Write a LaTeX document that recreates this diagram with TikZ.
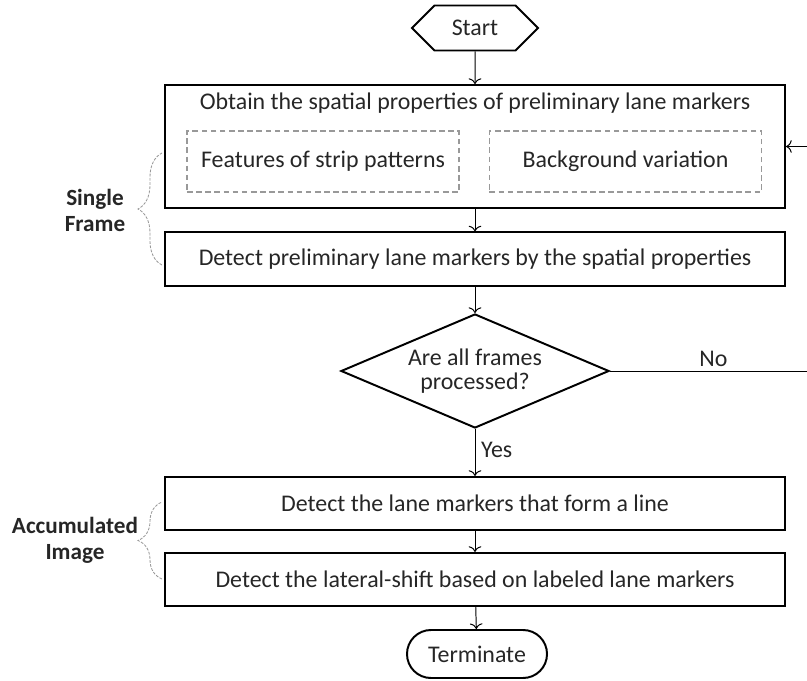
\documentclass[tikz,border=0pt]{standalone}
\usepackage{fontspec}
\setmainfont{Carlito}
\usetikzlibrary{shapes.geometric,shapes.misc,shapes.symbols,decorations.pathreplacing,arrows.meta}

\begin{document}
\begin{tikzpicture}[x=0.025cm,y=-0.025cm, % one unit is one pixel of the layout
  font=\fontsize{17}{18}\selectfont,
  every node/.style={inner sep=0pt, text=black!85},
  procbox/.style={draw=black, line width=1.4pt, minimum width=15.5cm, minimum height=1.33cm},
  subbox/.style={draw=black!40, line width=1pt, dash pattern=on 4pt off 2.5pt, minimum width=6.8cm, minimum height=1.525cm},
  decision/.style={diamond, aspect=2.35, draw=black, line width=1.4pt, minimum width=6.7cm, minimum height=2.85cm, align=center, font=\fontsize{17}{17}\selectfont},
  flow/.style={-{To[length=4pt,width=9pt]}, line width=0.7pt},
  sidebrace/.style={decorate, decoration={brace, amplitude=0.6cm}, draw=black!40, dash pattern=on 2pt off 1pt, line width=0.6pt},
  sidelabel/.style={font=\fontsize{16.5}{18.5}\selectfont\bfseries, align=center}]
\clip (0,0) rectangle (807,681);
% process column
\node[signal, signal to=east and west, draw=black, line width=1.4pt, minimum width=3.15cm, minimum height=1.125cm] (start) at (475,28) {Start};
\node[procbox, minimum height=3.075cm] (obtain) at (475,146.5) {};
\node (obtaintxt) at (475,103) {Obtain the spatial properties of preliminary lane markers};
\node[subbox] (strip) at (323,161.5) {Features of strip patterns};
\node[subbox] (backg) at (625.5,161.5) {Background variation};
\node[procbox] (detect) at (475,259) {Detect preliminary lane markers by the spatial properties};
\node[decision] (done) at (475,371) {Are all frames\\processed?};
\node[procbox] (line) at (475,503.5) {Detect the lane markers that form a line};
\node[procbox] (shift) at (475,579.5) {Detect the lateral-shift based on labeled lane markers};
\node[rounded rectangle, draw=black, line width=1.4pt, minimum width=3.5cm, minimum height=1.2cm] (stop) at (477,654) {Terminate};
\coordinate (loop) at (830,371);
% connectors
\draw[flow] (start) -- (obtain);
\draw[flow] (obtain) -- (detect);
\draw[flow] (detect) -- (done);
\draw[flow] (done) -- node[right=4pt, pos=0.45] {Yes} (line);
\draw[flow] (line) -- (shift);
\draw[flow] (shift) -- (stop);
\draw[flow] (done.east) -- node[above=3pt, pos=0.47] {No} (loop) |- (obtain.east);
% side braces
\draw[sidebrace] (162,265) -- (162,153);
\draw[sidebrace] (162,579) -- (162,502);
\node[sidelabel] (single) at (95,210) {Single\\Frame};
\node[sidelabel] (accum) at (75,540) {Accumulated\\Image};
\end{tikzpicture}
\end{document}
